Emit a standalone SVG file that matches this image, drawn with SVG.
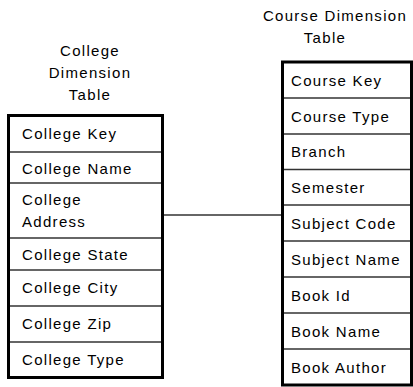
<svg xmlns="http://www.w3.org/2000/svg" width="413" height="387" viewBox="0 0 413 387">
<style>
text{font-family:"Liberation Sans",Arial,sans-serif;font-size:15px;fill:#000;letter-spacing:1.3px}
.title{text-anchor:middle}
.box{fill:#fff;stroke:#000;stroke-width:3}
.div{stroke:#333;stroke-width:1.6}
.conn{stroke:#333;stroke-width:1.6;fill:none}
</style>
<rect width="413" height="387" fill="#fff"/>
<g id="connectors">
<line class="conn" x1="163" y1="215" x2="282" y2="215"/>
</g>
<g id="college">
<text class="title" x="90" y="56">College</text>
<text class="title" x="90" y="78">Dimension</text>
<text class="title" x="90" y="100">Table</text>
<rect class="box" x="8.5" y="115.5" width="154" height="262"/>
<line class="div" x1="10" y1="152" x2="161" y2="152"/>
<line class="div" x1="10" y1="183" x2="161" y2="183"/>
<line class="div" x1="10" y1="238" x2="161" y2="238"/>
<line class="div" x1="10" y1="270" x2="161" y2="270"/>
<line class="div" x1="10" y1="306" x2="161" y2="306"/>
<line class="div" x1="10" y1="342" x2="161" y2="342"/>
<text x="22" y="139">College Key</text>
<text x="22" y="174">College Name</text>
<text x="22" y="205">College</text>
<text x="22" y="227">Address</text>
<text x="22" y="260">College State</text>
<text x="22" y="293">College City</text>
<text x="22" y="329">College Zip</text>
<text x="22" y="365">College Type</text>
</g>
<g id="course">
<text class="title" x="335" y="21">Course Dimension</text>
<text class="title" x="325" y="43">Table</text>
<rect class="box" x="282.5" y="62" width="129" height="323"/>
<line class="div" x1="284" y1="98" x2="410" y2="98"/>
<line class="div" x1="284" y1="134" x2="410" y2="134"/>
<line class="div" x1="284" y1="169.5" x2="410" y2="169.5"/>
<line class="div" x1="284" y1="205" x2="410" y2="205"/>
<line class="div" x1="284" y1="241" x2="410" y2="241"/>
<line class="div" x1="284" y1="277" x2="410" y2="277"/>
<line class="div" x1="284" y1="313" x2="410" y2="313"/>
<line class="div" x1="284" y1="349" x2="410" y2="349"/>
<text x="291" y="85.5">Course Key</text>
<text x="291" y="121.5">Course Type</text>
<text x="291" y="157">Branch</text>
<text x="291" y="192.5">Semester</text>
<text x="291" y="228.5">Subject Code</text>
<text x="291" y="264.5">Subject Name</text>
<text x="291" y="300.5">Book Id</text>
<text x="291" y="336.5">Book Name</text>
<text x="291" y="372.5">Book Author</text>
</g>
</svg>
